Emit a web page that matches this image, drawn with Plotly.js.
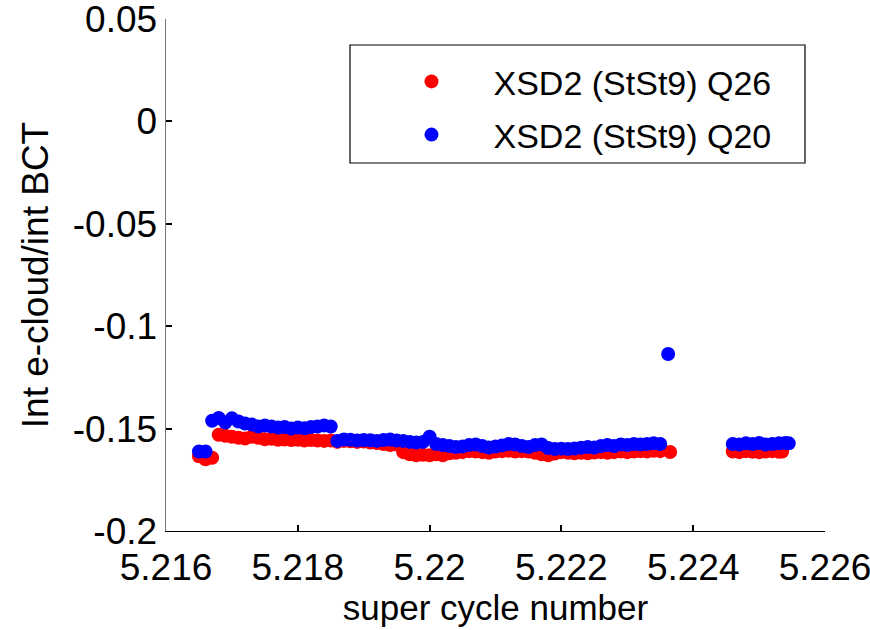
<!DOCTYPE html>
<html>
<head>
<meta charset="utf-8">
<script src="https://cdn.plot.ly/plotly-3.0.1.min.js"></script>
<style>html,body{margin:0;padding:0;background:#fff;}#chart{width:870px;height:630px;}</style>
</head>
<body>
<div id="chart"></div>
<script>
// Q26 (red)
const xQ26 = [5.21650,5.21660,5.21670,5.21680,5.21690,5.21700,5.21710,5.21720,5.21730,5.21740,
  5.21750,5.21760,5.21770,5.21780,5.21790,5.21800,5.21810,5.21820,5.21830,5.21840,
  5.21850,5.21860,5.21870,5.21880,5.21890,5.21900,5.21910,5.21920,5.21930,5.21940,
  5.21950,5.21960,5.21970,5.21980,5.21990,5.22000,5.22010,5.22020,5.22030,5.22040,
  5.22050,5.22060,5.22070,5.22080,5.22090,5.22100,5.22110,5.22120,5.22130,5.22140,
  5.22150,5.22160,5.22170,5.22180,5.22190,5.22200,5.22210,5.22220,5.22230,5.22240,
  5.22250,5.22260,5.22270,5.22280,5.22290,5.22300,5.22310,5.22320,5.22330,5.22340,
  5.22350,5.22365,
  5.22460,5.22470,5.22480,5.22490,5.22500,5.22510,5.22520,5.22530,5.22535];
const yQ26 = [-0.1635,-0.1650,-0.1642,-0.1530,-0.1535,-0.1540,-0.1545,-0.1548,-0.1540,-0.1545,
  -0.1552,-0.1550,-0.1555,-0.1553,-0.1556,-0.1555,-0.1558,-0.1556,-0.1558,-0.1560,
  -0.1558,-0.1565,-0.1560,-0.1562,-0.1565,-0.1563,-0.1568,-0.1570,-0.1575,-0.1580,
  -0.1578,-0.1615,-0.1625,-0.1630,-0.1628,-0.1630,-0.1625,-0.1630,-0.1620,-0.1618,
  -0.1615,-0.1610,-0.1612,-0.1615,-0.1618,-0.1612,-0.1610,-0.1608,-0.1612,-0.1610,
  -0.1612,-0.1618,-0.1625,-0.1630,-0.1622,-0.1615,-0.1618,-0.1620,-0.1618,-0.1620,
  -0.1617,-0.1615,-0.1618,-0.1615,-0.1612,-0.1615,-0.1612,-0.1610,-0.1612,-0.1608,
  -0.1610,-0.1614,
  -0.1612,-0.1615,-0.1610,-0.1613,-0.1615,-0.1612,-0.1610,-0.1613,-0.1612];
// Q20 (blue)
const xQ20 = [5.21650,5.21660,5.21670,5.21680,5.21690,5.21700,5.21710,5.21720,5.21730,5.21740,
  5.21750,5.21760,5.21770,5.21780,5.21790,5.21800,5.21810,5.21820,5.21830,5.21840,
  5.21850,5.21860,5.21870,5.21880,5.21890,5.21900,5.21910,5.21920,5.21930,5.21940,
  5.21950,5.21960,5.21970,5.21980,5.21990,5.22000,5.22010,5.22020,5.22030,5.22040,
  5.22050,5.22060,5.22070,5.22080,5.22090,5.22100,5.22110,5.22120,5.22130,5.22140,
  5.22150,5.22160,5.22170,5.22180,5.22190,5.22200,5.22210,5.22220,5.22230,5.22240,
  5.22250,5.22260,5.22270,5.22280,5.22290,5.22300,5.22310,5.22320,5.22330,5.22340,
  5.22350,5.22362,
  5.22460,5.22470,5.22480,5.22490,5.22500,5.22510,5.22520,5.22530,5.22540,5.22545];
const yQ20 = [-0.1612,-0.1612,-0.1462,-0.1448,-0.1470,-0.1450,-0.1465,-0.1475,-0.1480,-0.1490,
  -0.1485,-0.1490,-0.1495,-0.1492,-0.1500,-0.1495,-0.1498,-0.1492,-0.1490,-0.1485,
  -0.1490,-0.1560,-0.1553,-0.1555,-0.1558,-0.1556,-0.1557,-0.1560,-0.1556,-0.1553,
  -0.1558,-0.1560,-0.1565,-0.1568,-0.1565,-0.1540,-0.1575,-0.1580,-0.1585,-0.1590,
  -0.1588,-0.1580,-0.1578,-0.1585,-0.1592,-0.1588,-0.1582,-0.1575,-0.1578,-0.1585,
  -0.1590,-0.1580,-0.1578,-0.1595,-0.1600,-0.1598,-0.1600,-0.1597,-0.1593,-0.1590,
  -0.1592,-0.1585,-0.1580,-0.1585,-0.1578,-0.1580,-0.1575,-0.1578,-0.1575,-0.1572,
  -0.1575,-0.1136,
  -0.1575,-0.1578,-0.1572,-0.1575,-0.1570,-0.1578,-0.1575,-0.1572,-0.1570,-0.1572];

const xTickVals = [5.216,5.218,5.22,5.222,5.224,5.226];
const xTickText = ['5.216','5.218','5.22','5.222','5.224','5.226'];
const yTickVals = [0.05,0,-0.05,-0.1,-0.15,-0.2];
const yTickText = ['0.05','0','-0.05','-0.1','-0.15','-0.2'];
const seriesNames = ['XSD2 (StSt9) Q26','XSD2 (StSt9) Q20'];

const FONT = 'Liberation Sans, Arial, sans-serif';

const traces = [
  {x: xQ26, y: yQ26, name: seriesNames[0], type: 'scatter', mode: 'markers',
   legendgroup: 'a',
   marker: {color: '#ff0000', size: 14, line: {width: 0}}},
  {x: xQ20, y: yQ20, name: seriesNames[1], type: 'scatter', mode: 'markers',
   legendgroup: 'b',
   marker: {color: '#0000ff', size: 14, line: {width: 0}}}
];

const layout = {
  width: 870, height: 630,
  margin: {l: 166, r: 45, t: 19, b: 99},
  paper_bgcolor: '#ffffff', plot_bgcolor: '#ffffff',
  font: {family: FONT, color: '#000', size: 34},
  showlegend: true,
  legend: {
    x: 0.3088, y: 0.934, xanchor: 'left', yanchor: 'top',
    bgcolor: 'rgba(0,0,0,0)', borderwidth: 0,
    font: {family: FONT, size: 34, color: '#000'},
    itemwidth: 114, traceorder: 'grouped', tracegroupgap: 6
  },
  shapes: [
    {type: 'rect', xref: 'paper', yref: 'paper',
     x0: (350-166)/659, x1: (805-166)/659, y0: (531-163)/512, y1: (531-45)/512,
     line: {color: '#000', width: 1.2}, fillcolor: 'rgba(0,0,0,0)', layer: 'below'}
  ],
  xaxis: {
    range: [5.216, 5.226], tickvals: xTickVals, ticktext: xTickText,
    ticks: 'inside', ticklen: 6, tickwidth: 2, tickcolor: '#000',
    showline: true, linecolor: '#000', linewidth: 1.2, mirror: false,
    showgrid: false, zeroline: false, ticklabeloverflow: 'allow',
    ticklabelstandoff: 3,
    tickfont: {family: FONT, size: 37, color: '#000'},
    title: {text: 'super cycle number', font: {family: FONT, size: 35, color: '#000'}, standoff: 2},
    automargin: false
  },
  yaxis: {
    range: [-0.2, 0.05], tickvals: yTickVals, ticktext: yTickText,
    ticks: 'inside', ticklen: 6, tickwidth: 2, tickcolor: '#000',
    showline: true, linecolor: '#777', linewidth: 1.5, mirror: false,
    showgrid: false, zeroline: false, ticklabeloverflow: 'allow',
    tickfont: {family: FONT, size: 37, color: '#000'},
    title: {text: 'Int e-cloud/int BCT', font: {family: FONT, size: 37, color: '#000'}, standoff: 13},
    automargin: false
  }
};

Plotly.newPlot('chart', traces, layout, {displayModeBar: false, staticPlot: true});
</script>
</body>
</html>
